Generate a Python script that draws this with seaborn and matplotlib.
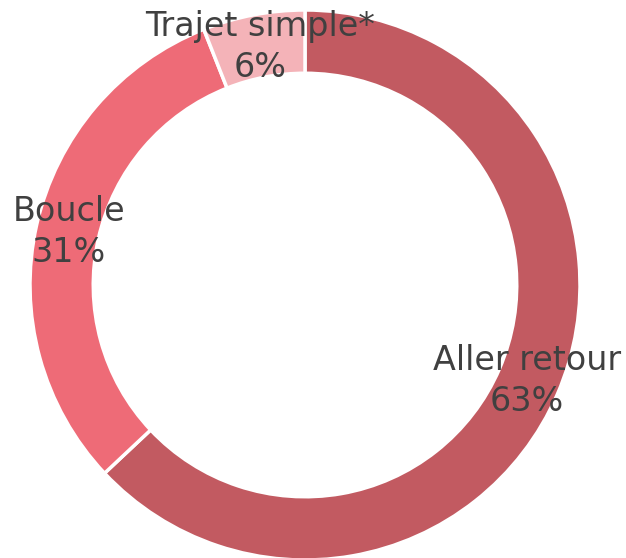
import matplotlib
matplotlib.use('Agg')
import matplotlib.pyplot as plt
import seaborn as sns

# data
labels = ['Aller retour', 'Boucle', 'Trajet simple*']
values = [63, 31, 6]
colors = ['#C25A61', '#EE6B77', '#F4B3B8']

sns.set_theme(style='white')
plt.rcParams['font.family'] = ['DejaVu Sans']

fig = plt.figure(figsize=(6.26, 5.58), dpi=100)
ax = fig.add_axes([0, 0, 1, 1])

names = iter(labels)
wedges, texts, autotexts = ax.pie(
    values, colors=colors, startangle=90, counterclock=False,
    wedgeprops=dict(width=0.23, edgecolor='white', linewidth=2.5),
    autopct=lambda p: f'{next(names)}\n{p:.0f}%', pctdistance=0.88,
    textprops=dict(color='#404040', fontsize=24, ha='center', va='center',
                   linespacing=1.3))

# place the pie: outer radius ~275 px, centre at (305, 285) from top-left
r = 275
ax.set_xlim(-305 / r, (626 - 305) / r)
ax.set_ylim(-(558 - 285) / r, 285 / r)
ax.set_aspect('equal', adjustable='box')
ax.axis('off')

fig.savefig('out.png', dpi=100)
